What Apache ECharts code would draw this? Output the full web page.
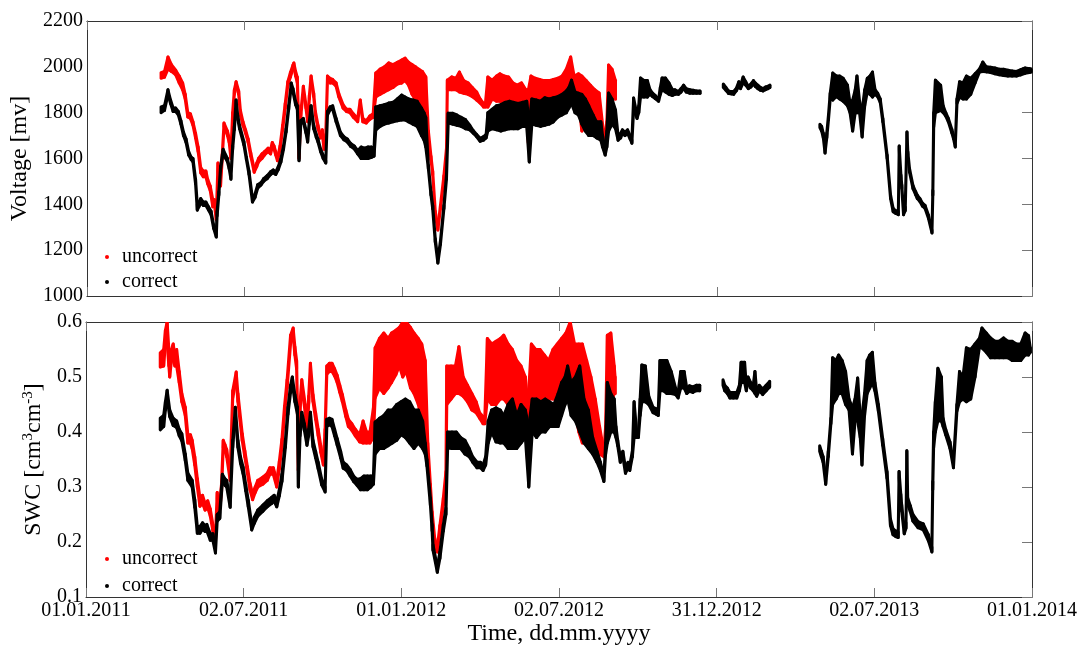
<!DOCTYPE html>
<html>
<head>
<meta charset="utf-8">
<script src="https://cdn.jsdelivr.net/npm/echarts@6/dist/echarts.min.js"></script>
<style>
html,body{margin:0;padding:0;background:#fff;}
#chart{width:1082px;height:648px;}
</style>
</head>
<body>
<div id="chart"></div>
<script>
// x values: days since 01.01.2011; each row: [day, low, high] (the spread of the point cloud)
const xTickValues = [0, 182.67, 365.33, 548, 730.67, 913.33, 1096];
const xTickLabels = ['01.01.2011', '02.07.2011', '01.01.2012', '02.07.2012', '31.12.2012', '02.07.2013', '01.01.2014'];
const voltageTickLabels = ['1000', '1200', '1400', '1600', '1800', '2000', '2200'];
const swcTickLabels = ['0.1', '0.2', '0.3', '0.4', '0.5', '0.6'];
const seriesNames = ['uncorrect', 'correct'];

const voltageUncorrect = [[86,1950,1975],[90,1955,1980],[94,1990,2043],[98,1980,2010],[103,1965,1985],[107,1930,1960],[111,1900,1930],[114,1860,1880],[117,1781,1800],[120,1775,1795],[123,1745,1760],[126,1690,1710],[129,1630,1650],[132,1537,1560],[135,1520,1545],[138,1520,1545],[140,1490,1510],[143,1460,1480],[146,1389,1420],[148,1395,1420],[150,1332,1350],[152,1540,1580],[155,1480,1500],[157,1600,1620],[159,1740,1755],[163,1700,1720],[165,1670,1690],[167,1600,1620],[169,1780,1800],[171,1880,1900],[173,1920,1935],[176,1880,1895],[178,1790,1810],[181,1745,1760],[184,1710,1725],[187,1670,1685],[190,1610,1625],[194,1540,1555],[197,1565,1580],[199,1585,1600],[203,1600,1620],[206,1615,1630],[210,1630,1645],[213,1620,1640],[215,1650,1670],[217,1640,1655],[219,1615,1630],[221,1590,1600],[224,1640,1655],[227,1725,1745],[230,1820,1840],[233,1920,1935],[236,1955,1975],[239,1990,2008],[240,2000,2017],[242,1960,1980],[244,1930,1955],[245,1800,1830],[246,1600,1620],[248,1780,1800],[251,1900,1915],[254,1820,1835],[256,1760,1775],[258,1860,1875],[260,1945,1960],[263,1870,1885],[265,1790,1805],[268,1730,1745],[271,1690,1700],[273,1710,1725],[275,1640,1650],[277,1690,1705],[279,1940,1960],[282,1930,1950],[285,1930,1945],[289,1915,1930],[292,1870,1885],[297,1820,1835],[301,1805,1815],[305,1800,1815],[309,1780,1795],[314,1760,1775],[317,1840,1855],[320,1760,1775],[324,1755,1765],[328,1770,1785],[332,1780,1795],
[335,1868,1973],[340,1880,1990],[345,1890,2000],[350,1900,2017],[355,1910,2010],[360,1925,2020],[365,1929,2030],[369,1940,2038],[373,1920,2020],[377,1880,2010],[381,1855,2000],[385,1820,1990],[389,1770,1980],[393,1737,1956],[396,1700,1720],[399,1595,1610],[401,1530,1545],[404,1355,1370],[407,1288,1300],[410,1380,1395],[414,1510,1525],[417,1630,1645],[418,1900,1942],
[423,1900,1956],[428,1900,1950],[432,1890,1977],[437,1885,1940],[442,1880,1930],[447,1870,1910],[452,1855,1890],[456,1842,1860],[460,1825,1840],[462,1825,1835],[465,1825,1956],[470,1860,1942],[475,1850,1960],[479,1850,1970],[484,1845,1960],[489,1840,1956],[494,1840,1930],[499,1835,1920],[504,1830,1930],[509,1830,1900],[512,1667,1900],[515,1840,1960],[520,1840,1950],[525,1840,1945],[530,1840,1940],[536,1845,1940],[541,1850,1945],[546,1850,1950],[551,1860,1960],[556,1870,1990],[561,1890,2043],[565,1870,1960],[570,1850,1970],[574,1720,1960],[579,1760,1940],[584,1700,1920],[589,1700,1900],[594,1694,1886],[598,1667,1750],[601,1670,1690],[603,1700,1760],[605,1868,2008],[609,1860,1990],[613,1860,1940]];

const voltageCorrect = [[86,1800,1825],[90,1810,1830],[94,1880,1900],[97,1840,1855],[100,1805,1820],[103,1805,1820],[106,1790,1805],[109,1750,1765],[112,1700,1715],[115,1670,1685],[118,1615,1630],[121,1595,1605],[123,1585,1600],[126,1490,1510],[128,1375,1400],[130,1390,1410],[132,1405,1425],[135,1395,1410],[138,1395,1410],[141,1375,1390],[144,1355,1370],[147,1295,1310],[150,1257,1275],[151,1350,1370],[153,1440,1455],[155,1550,1565],[158,1625,1640],[161,1600,1615],[163,1585,1600],[165,1555,1565],[167,1510,1525],[169,1640,1655],[171,1725,1740],[173,1840,1855],[175,1770,1785],[177,1730,1745],[182,1660,1675],[185,1595,1605],[188,1530,1545],[192,1410,1425],[195,1430,1445],[198,1470,1485],[202,1485,1495],[205,1500,1512],[209,1512,1525],[213,1530,1542],[216,1538,1550],[219,1530,1542],[222,1552,1565],[225,1585,1600],[228,1640,1655],[231,1715,1730],[234,1815,1830],[237,1915,1929],[239,1890,1905],[242,1835,1850],[244,1815,1830],[246,1590,1610],[248,1750,1765],[251,1760,1775],[254,1712,1725],[256,1672,1685],[258,1750,1765],[260,1815,1830],[263,1730,1745],[266,1692,1705],[268,1672,1685],[271,1630,1642],[274,1600,1615],[277,1580,1590],[279,1790,1805],[282,1812,1825],[285,1815,1830],[289,1760,1775],[294,1700,1715],[298,1682,1695],[302,1672,1685],[306,1652,1665],[310,1642,1655],[314,1620,1635],[318,1600,1650],[322,1600,1645],[326,1600,1650],[330,1605,1650],[333,1610,1645],
[335,1724,1825],[340,1740,1830],[345,1750,1835],[350,1755,1842],[355,1760,1845],[360,1765,1860],[365,1768,1877],[369,1768,1868],[373,1760,1860],[378,1750,1855],[383,1740,1850],[388,1700,1820],[391,1680,1800],[393,1650,1780],[396,1555,1570],[399,1440,1455],[401,1380,1395],[404,1235,1250],[407,1144,1160],[410,1225,1240],[414,1380,1395],[417,1510,1530],[419,1755,1798],
[424,1750,1798],[429,1745,1790],[434,1740,1780],[439,1730,1770],[444,1725,1745],[448,1710,1722],[452,1695,1705],[456,1675,1688],[460,1680,1695],[463,1690,1705],[465,1720,1800],[470,1730,1815],[475,1725,1830],[480,1720,1835],[485,1725,1845],[490,1730,1850],[495,1730,1845],[500,1730,1840],[505,1740,1845],[510,1740,1850],[513,1585,1760],[516,1750,1860],[521,1745,1855],[526,1740,1850],[531,1745,1865],[536,1750,1860],[541,1760,1865],[546,1780,1870],[551,1790,1880],[556,1800,1895],[559,1820,1910],[562,1840,1942],[566,1800,1890],[570,1790,1885],[574,1750,1880],[578,1720,1860],[582,1700,1830],[587,1700,1790],[591,1690,1760],[596,1680,1760],[598,1650,1700],[601,1615,1640],[603,1650,1720],[605,1720,1886],[609,1750,1860],[613,1730,1812],[616,1680,1700],[619,1690,1710],[621,1710,1725],[624,1700,1715],[627,1710,1725],[630,1685,1700],[632,1667,1680],[634,1812,1864],[638,1775,1790],[640,1800,1830],[642,1868,1951],[646,1868,1940],[650,1868,1940],[653,1880,1900],[656,1870,1885],[659,1862,1875],[663,1850,1860],[665,1880,1910],[667,1900,1951],[671,1890,1951],[675,1880,1930],[679,1875,1900],[682,1880,1900],[686,1880,1892],[689,1890,1905],[692,1905,1920],[695,1890,1905],[699,1885,1900],[703,1885,1898],[707,1885,1895],[711,1885,1895],[712,null,null],
[738,1910,1925],[741,1898,1910],[744,1884,1895],[747,1882,1892],[750,1880,1892],[753,1895,1905],[756,1915,1935],[758,1905,1920],[761,1930,1956],[764,1920,1935],[767,1905,1915],[770,1912,1925],[773,1925,1940],[775,1915,1930],[778,1905,1920],[781,1898,1910],[784,1895,1905],[787,1900,1912],[790,1905,1915],[792,1910,1920],[793,null,null],
[850,1735,1750],[852,1720,1740],[854,1690,1710],[856,1624,1640],[858,1690,1710],[860,1770,1790],[862,1860,1885],[865,1855,1973],[869,1870,1960],[873,1860,1960],[877,1850,1950],[882,1830,1920],[885,1800,1840],[888,1720,1855],[891,1800,1900],[893,1800,1960],[896,1800,1850],[899,1694,1812],[902,1830,1900],[905,1890,1950],[908,1880,1960],[911,1868,1977],[914,1880,1900],[917,1870,1885],[920,1845,1860],[923,1760,1775],[928,1600,1615],[932,1425,1440],[935,1368,1382],[938,1360,1372],[941,1355,1370],[942,1640,1655],[944,1512,1528],[945,1470,1485],[947,1355,1370],[949,1372,1388],[951,1700,1716],[952,1615,1630],[954,1540,1555],[958,1468,1482],[961,1442,1456],[963,1425,1440],[966,1412,1425],[969,1392,1405],[972,1382,1395],[976,1338,1352],[980,1275,1285],[981,1440,1460],[982,1737,1800],[984,1800,1942],[987,1805,1930],[990,1810,1920],[993,1800,1830],[996,1785,1800],[999,1760,1775],[1003,1712,1728],[1005,1686,1700],[1007,1650,1660],[1009,1840,1860],[1012,1868,1935],[1016,1860,1930],[1020,1860,1960],[1025,1880,1950],[1030,1930,1970],[1035,1977,1990],[1039,1980,2021],[1043,1978,2000],[1048,1975,1998],[1053,1970,1995],[1058,1965,1990],[1063,1962,1990],[1068,1960,1985],[1073,1960,1982],[1078,1960,1980],[1083,1965,1988],[1088,1972,1995],[1093,1975,1992],[1095,1978,1988]];

const swcUncorrect = [[86,0.518,0.544],[90,0.52,0.55],[92,0.56,0.585],[94,0.56,0.60],[96,0.52,0.55],[97,0.50,0.53],[99,0.53,0.55],[101,0.53,0.56],[103,0.52,0.54],[105,0.52,0.55],[108,0.49,0.51],[111,0.455,0.47],[115,0.43,0.445],[118,0.38,0.395],[121,0.38,0.395],[123,0.37,0.385],[126,0.34,0.355],[129,0.30,0.315],[132,0.265,0.28],[135,0.27,0.285],[138,0.258,0.27],[141,0.262,0.275],[144,0.247,0.26],[147,0.22,0.232],[150,0.2,0.212],[152,0.28,0.29],[154,0.245,0.258],[157,0.29,0.305],[159,0.372,0.385],[161,0.365,0.377],[163,0.355,0.368],[167,0.312,0.325],[170,0.462,0.475],[174,0.495,0.509],[176,0.455,0.47],[181,0.384,0.397],[184,0.355,0.366],[187,0.325,0.337],[190,0.295,0.307],[193,0.277,0.288],[196,0.29,0.3],[199,0.3,0.312],[205,0.305,0.318],[210,0.312,0.325],[213,0.323,0.335],[217,0.323,0.335],[221,0.3,0.312],[224,0.333,0.347],[227,0.373,0.387],[230,0.432,0.447],[233,0.48,0.495],[237,0.56,0.576],[240,0.575,0.589],[242,0.54,0.555],[244,0.515,0.53],[246,0.33,0.36],[248,0.44,0.455],[250,0.48,0.495],[254,0.436,0.45],[256,0.382,0.395],[258,0.452,0.465],[260,0.512,0.525],[263,0.455,0.468],[266,0.423,0.435],[269,0.393,0.405],[272,0.363,0.375],[275,0.34,0.35],[277,0.393,0.405],[279,0.505,0.52],[282,0.51,0.525],[285,0.51,0.525],[288,0.502,0.515],[291,0.49,0.503],[294,0.472,0.485],[297,0.455,0.468],[301,0.428,0.44],[304,0.41,0.423],[308,0.403,0.415],[312,0.393,0.405],[317,0.382,0.395],[321,0.38,0.42],[325,0.38,0.40],[329,0.38,0.40],[333,0.39,0.444],
[335,0.462,0.553],[340,0.48,0.57],[345,0.47,0.58],[350,0.48,0.57],[354,0.49,0.58],[359,0.504,0.585],[363,0.52,0.59],[367,0.50,0.60],[371,0.51,0.60],[376,0.48,0.59],[380,0.47,0.58],[385,0.45,0.57],[389,0.42,0.56],[393,0.40,0.53],[396,0.365,0.38],[399,0.292,0.305],[401,0.243,0.255],[404,0.195,0.207],[407,0.182,0.19],[410,0.218,0.23],[414,0.267,0.28],[417,0.315,0.328],[418,0.45,0.52],
[423,0.46,0.52],[428,0.47,0.52],[432,0.47,0.555],[437,0.465,0.50],[442,0.455,0.485],[447,0.44,0.47],[452,0.435,0.455],[456,0.425,0.435],[460,0.415,0.428],[462,0.415,0.425],[465,0.46,0.57],[470,0.45,0.56],[475,0.45,0.565],[480,0.46,0.57],[484,0.46,0.576],[489,0.45,0.56],[494,0.45,0.55],[499,0.44,0.53],[504,0.42,0.52],[509,0.42,0.50],[512,0.335,0.45],[516,0.45,0.56],[521,0.45,0.55],[526,0.46,0.55],[531,0.46,0.54],[536,0.46,0.53],[541,0.46,0.55],[546,0.46,0.56],[551,0.48,0.57],[556,0.49,0.58],[561,0.50,0.60],[566,0.44,0.56],[571,0.40,0.56],[575,0.38,0.56],[580,0.42,0.53],[585,0.40,0.50],[590,0.38,0.46],[595,0.36,0.41],[600,0.355,0.365],[602,0.39,0.41],[604,0.49,0.576],[608,0.45,0.58],[612,0.47,0.52],[613,0.47,0.5]];

const swcCorrect = [[86,0.404,0.425],[90,0.41,0.43],[92,0.44,0.455],[94,0.46,0.476],[97,0.428,0.44],[101,0.412,0.425],[105,0.408,0.42],[108,0.393,0.405],[111,0.384,0.397],[115,0.348,0.36],[118,0.312,0.325],[123,0.3,0.312],[126,0.263,0.277],[129,0.216,0.228],[132,0.216,0.228],[135,0.223,0.235],[138,0.219,0.23],[140,0.22,0.232],[144,0.203,0.215],[147,0.203,0.215],[150,0.18,0.19],[152,0.238,0.25],[155,0.243,0.255],[158,0.31,0.323],[161,0.303,0.315],[163,0.3,0.312],[167,0.263,0.277],[170,0.372,0.385],[173,0.43,0.445],[176,0.372,0.385],[179,0.343,0.355],[182,0.324,0.336],[185,0.293,0.305],[188,0.264,0.276],[192,0.222,0.232],[195,0.234,0.245],[199,0.247,0.258],[205,0.256,0.267],[210,0.264,0.275],[215,0.27,0.281],[218,0.274,0.285],[221,0.264,0.275],[224,0.284,0.295],[227,0.31,0.323],[231,0.372,0.385],[234,0.432,0.445],[237,0.472,0.485],[239,0.488,0.5],[242,0.455,0.468],[245,0.432,0.445],[246,0.30,0.33],[248,0.393,0.405],[250,0.423,0.436],[253,0.403,0.415],[256,0.376,0.388],[258,0.393,0.405],[260,0.423,0.436],[263,0.373,0.385],[266,0.353,0.365],[269,0.333,0.345],[273,0.304,0.315],[277,0.291,0.3],[279,0.41,0.423],[282,0.413,0.425],[285,0.41,0.423],[288,0.393,0.405],[291,0.376,0.388],[295,0.353,0.365],[298,0.334,0.345],[302,0.33,0.34],[306,0.32,0.332],[310,0.31,0.32],[314,0.303,0.314],[318,0.295,0.315],[322,0.295,0.32],[326,0.295,0.32],[330,0.3,0.32],[333,0.305,0.32],
[335,0.36,0.418],[340,0.37,0.425],[345,0.37,0.43],[350,0.375,0.44],[355,0.38,0.44],[360,0.385,0.45],[365,0.395,0.455],[370,0.39,0.46],[375,0.38,0.455],[380,0.37,0.44],[385,0.38,0.44],[390,0.37,0.42],[393,0.36,0.38],[395,0.338,0.35],[399,0.267,0.28],[401,0.22,0.232],[402,0.185,0.195],[407,0.145,0.155],[410,0.17,0.182],[414,0.22,0.232],[417,0.25,0.262],[419,0.371,0.40],
[424,0.37,0.40],[429,0.37,0.40],[434,0.37,0.39],[439,0.36,0.385],[444,0.355,0.37],[448,0.345,0.355],[453,0.335,0.345],[457,0.335,0.345],[460,0.33,0.34],[463,0.34,0.355],[466,0.38,0.42],[470,0.40,0.44],[475,0.382,0.444],[480,0.38,0.44],[484,0.38,0.43],[489,0.37,0.45],[494,0.37,0.46],[499,0.37,0.43],[504,0.38,0.45],[509,0.39,0.44],[513,0.30,0.41],[517,0.40,0.46],[522,0.39,0.46],[527,0.40,0.455],[532,0.40,0.46],[537,0.41,0.455],[542,0.41,0.45],[547,0.41,0.47],[551,0.43,0.49],[555,0.45,0.50],[558,0.46,0.52],[562,0.43,0.49],[567,0.42,0.50],[572,0.40,0.52],[577,0.38,0.46],[582,0.37,0.44],[587,0.36,0.39],[592,0.345,0.365],[596,0.33,0.345],[600,0.31,0.32],[602,0.36,0.38],[604,0.38,0.49],[608,0.40,0.47],[612,0.40,0.46],[614,0.39,0.41],[616,0.375,0.385],[619,0.345,0.355],[622,0.355,0.365],[625,0.325,0.335],[628,0.335,0.345],[630,0.33,0.34],[633,0.355,0.365],[635,0.39,0.455],[638,0.39,0.40],[640,0.39,0.40],[642,0.43,0.46],[644,0.455,0.522],[648,0.455,0.52],[652,0.45,0.465],[657,0.435,0.445],[661,0.432,0.442],[663,0.43,0.44],[665,0.475,0.53],[669,0.475,0.53],[673,0.47,0.53],[678,0.47,0.51],[683,0.468,0.48],[686,0.462,0.472],[689,0.48,0.51],[693,0.48,0.51],[696,0.47,0.48],[699,0.474,0.484],[703,0.472,0.482],[707,0.475,0.485],[711,0.475,0.485],[712,null,null],
[738,0.485,0.495],[740,0.475,0.485],[743,0.47,0.48],[746,0.462,0.472],[750,0.462,0.472],[754,0.462,0.472],[757,0.475,0.485],[759,0.49,0.527],[763,0.49,0.527],[765,0.475,0.485],[767,0.49,0.50],[770,0.48,0.49],[773,0.475,0.485],[775,0.47,0.51],[777,0.465,0.475],[780,0.475,0.485],[784,0.468,0.478],[788,0.475,0.485],[792,0.482,0.492],[793,null,null],
[850,0.365,0.375],[852,0.355,0.365],[854,0.345,0.355],[857,0.305,0.315],[860,0.355,0.365],[863,0.415,0.425],[865,0.45,0.535],[869,0.46,0.53],[872,0.47,0.54],[876,0.47,0.53],[880,0.45,0.51],[884,0.44,0.46],[888,0.36,0.444],[891,0.42,0.46],[894,0.42,0.498],[897,0.39,0.43],[899,0.34,0.43],[902,0.43,0.47],[905,0.47,0.53],[908,0.48,0.54],[911,0.49,0.545],[914,0.475,0.49],[918,0.438,0.45],[923,0.376,0.388],[928,0.316,0.328],[932,0.23,0.242],[935,0.213,0.224],[938,0.21,0.22],[941,0.208,0.218],[942,0.316,0.328],[944,0.275,0.287],[945,0.256,0.268],[948,0.215,0.225],[950,0.225,0.235],[951,0.354,0.366],[952,0.268,0.28],[955,0.255,0.266],[958,0.238,0.25],[964,0.226,0.237],[970,0.222,0.233],[976,0.202,0.213],[980,0.182,0.19],[981,0.295,0.31],[982,0.371,0.40],[984,0.40,0.455],[987,0.42,0.516],[991,0.42,0.50],[993,0.41,0.425],[996,0.395,0.405],[1001,0.37,0.382],[1005,0.335,0.345],[1009,0.438,0.45],[1012,0.455,0.51],[1016,0.46,0.50],[1020,0.455,0.553],[1025,0.46,0.55],[1030,0.50,0.56],[1035,0.553,0.57],[1038,0.553,0.589],[1043,0.545,0.58],[1048,0.535,0.571],[1053,0.535,0.565],[1058,0.535,0.565],[1063,0.535,0.571],[1068,0.535,0.565],[1073,0.53,0.565],[1078,0.53,0.56],[1083,0.53,0.56],[1088,0.54,0.58],[1092,0.54,0.575],[1094,0.545,0.553]];

const FONT = "'Liberation Serif', 'Times New Roman', serif";
const AXIS_COLOR = '#333';
const TICK_COLOR = '#777';

function xAxisDef(gridIndex, position, showLabels, name) {
  return {
    type: 'value', gridIndex, position, min: 0, max: 1096,
    axisLine: { show: true, onZero: false, lineStyle: { color: AXIS_COLOR, width: 1 } },
    axisTick: { show: true, inside: true, length: 9, customValues: xTickValues, lineStyle: { color: TICK_COLOR } },
    axisLabel: {
      show: showLabels, customValues: xTickValues, margin: 4,
      fontFamily: FONT, fontSize: 20, color: '#000',
      formatter: v => { const i = xTickValues.indexOf(v); return i >= 0 ? xTickLabels[i] : ''; }
    },
    splitLine: { show: false },
    name: name || '', nameLocation: 'middle', nameGap: 24,
    nameTextStyle: { fontFamily: FONT, fontSize: 24, color: '#000' }
  };
}

function yAxisDef(gridIndex, position, min, max, interval, labels, name, nameGap, rich) {
  const left = position === 'left';
  return {
    type: 'value', gridIndex, position, min, max, interval,
    axisLine: { show: true, onZero: false, lineStyle: { color: AXIS_COLOR, width: 1 } },
    axisTick: { show: !left, inside: true, length: 10, lineStyle: { color: TICK_COLOR } },
    axisLabel: {
      show: left, margin: 4, fontFamily: FONT, fontSize: 20, color: '#000',
      formatter: v => labels[Math.round((v - min) / interval)]
    },
    splitLine: { show: false },
    name: left ? name : '', nameLocation: 'middle', nameGap: nameGap, nameRotate: 90,
    nameTextStyle: { fontFamily: FONT, fontSize: 24, color: '#000', rich: rich || {} }
  };
}

// Point cloud drawn as a band between the low and high reading of each sample
function cloudSeries(name, rows, color, xi, yi, z) {
  return {
    type: 'custom', name, data: rows, xAxisIndex: xi, yAxisIndex: yi, z,
    encode: { x: 0, y: [1, 2] }, clip: true, animation: false,
    itemStyle: { color },
    renderItem: function (params, api) {
      const i = params.dataIndex;
      const a = rows[i], b = rows[i + 1];
      if (!b || a[1] == null || b[1] == null) {
        if (a[1] == null || (b && b[1] != null)) return null;
        const p = api.coord([a[0], a[1]]), q = api.coord([a[0], a[2]]);
        return { type: 'line', shape: { x1: p[0], y1: p[1], x2: q[0], y2: q[1] },
          style: { stroke: color, lineWidth: 3, lineCap: 'round' } };
      }
      const p1 = api.coord([a[0], a[1]]), p2 = api.coord([a[0], a[2]]);
      const p3 = api.coord([b[0], b[2]]), p4 = api.coord([b[0], b[1]]);
      return {
        type: 'polygon',
        shape: { points: [p1, p2, p3, p4] },
        style: { fill: color, stroke: color, lineWidth: 3, lineJoin: 'round' }
      };
    }
  };
}

const chart = echarts.init(document.getElementById('chart'), null, { renderer: 'canvas' });
chart.setOption({
  animation: false,
  backgroundColor: '#fff',
  grid: [
    { left: 86, top: 21, width: 946, height: 275 },
    { left: 86, top: 322, width: 946, height: 275 }
  ],
  legend: [
    { data: seriesNames, left: 100, top: 242, orient: 'vertical', icon: 'circle', itemWidth: 20, itemHeight: 4, itemGap: 5,
      textStyle: { fontFamily: FONT, fontSize: 20, color: '#000', lineHeight: 20 }, selectedMode: false },
    { data: seriesNames, left: 100, top: 544, orient: 'vertical', icon: 'circle', itemWidth: 20, itemHeight: 4, itemGap: 7,
      textStyle: { fontFamily: FONT, fontSize: 20, color: '#000', lineHeight: 20 }, selectedMode: false }
  ],
  xAxis: [
    xAxisDef(0, 'bottom', false),
    xAxisDef(0, 'top', false),
    xAxisDef(1, 'bottom', true, 'Time, dd.mm.yyyy'),
    xAxisDef(1, 'top', false)
  ],
  yAxis: [
    yAxisDef(0, 'left', 1000, 2200, 200, voltageTickLabels, 'Voltage [mv]', 51),
    yAxisDef(0, 'right', 1000, 2200, 200, voltageTickLabels),
    yAxisDef(1, 'left', 0.1, 0.6, 0.1, swcTickLabels, 'SWC [cm{sup|3}cm{sup|-3}]', 36,
      { sup: { fontFamily: FONT, fontSize: 15, color: '#000', verticalAlign: 'top', lineHeight: 28 } }),
    yAxisDef(1, 'right', 0.1, 0.6, 0.1, swcTickLabels)
  ],
  series: [
    cloudSeries(seriesNames[0], voltageUncorrect, '#ff0000', 0, 0, 2),
    cloudSeries(seriesNames[1], voltageCorrect, '#000000', 0, 0, 3),
    cloudSeries(seriesNames[0], swcUncorrect, '#ff0000', 2, 2, 2),
    cloudSeries(seriesNames[1], swcCorrect, '#000000', 2, 2, 3)
  ]
});
</script>
</body>
</html>
